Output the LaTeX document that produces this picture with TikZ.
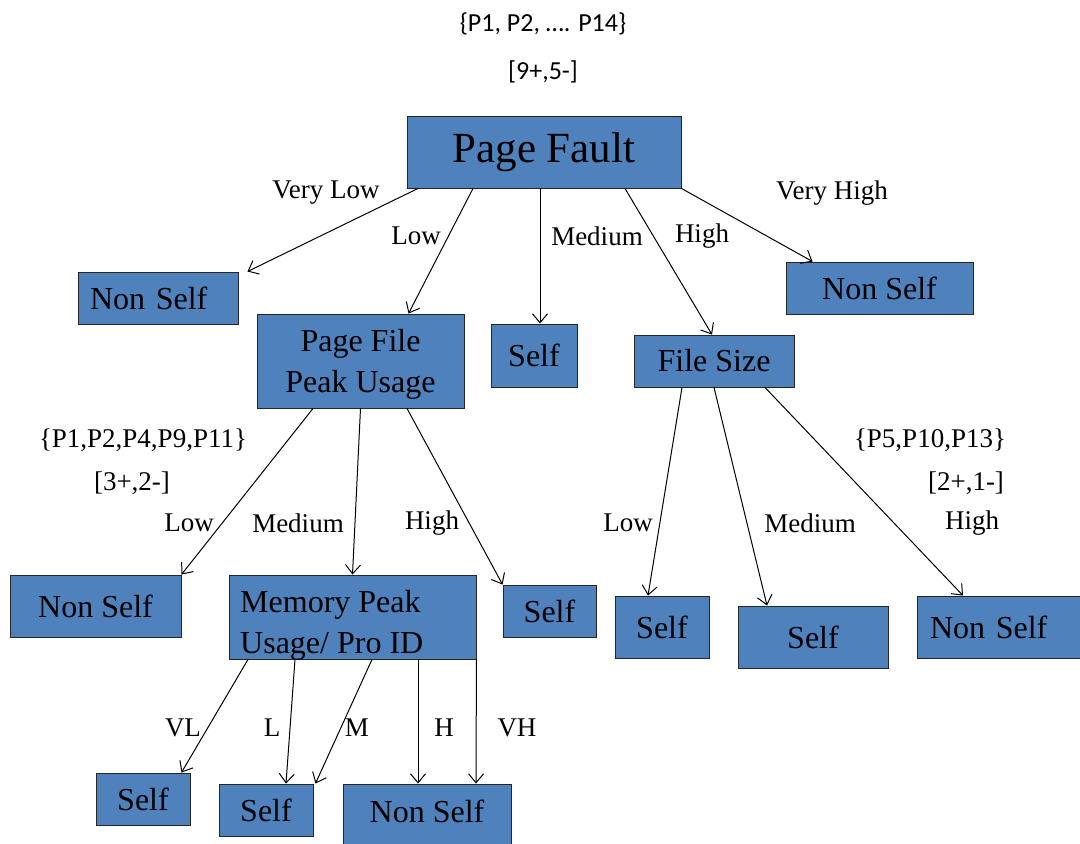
\documentclass[tikz,border=0pt]{standalone}
\usepackage{fontspec}
\setmainfont{Liberation Serif}
\newfontfamily\calibri{Carlito}
\usetikzlibrary{arrows.meta}
\definecolor{boxblue}{HTML}{4F81BD}

\tikzset{
  box/.style={draw=black!85, line width=0.9pt, fill=boxblue, inner sep=0pt,
    font=\fontsize{32}{41}\selectfont},
  lbl/.style={font=\fontsize{27}{32}\selectfont, inner sep=0pt},
  arr/.style={-{Straight Barb[length=9pt,width=15pt]}, line width=1pt}
}

\begin{document}
\begin{tikzpicture}[x=1pt,y=-1pt]
\useasboundingbox (0,0) rectangle (1080,844);
\clip (0,0) rectangle (1080,844);

% root
\node [lbl,font=\calibri\fontsize{26}{30}\selectfont] (all) at (543,24) {\{P1, P2, …. P14\}};
\node [lbl,font=\calibri\fontsize{26}{30}\selectfont] (allc) at (543,72) {[9+,5-]};
\node [box, minimum width=274, minimum height=72, font=\fontsize{43}{48}\selectfont] (pf) at (544,152) {Page Fault};

% level 1
\node [box, minimum height=52, text width=136, inner xsep=12pt, align=left] (ns1) at (158,298) {Non Self};
\node [box, minimum width=207, minimum height=94, align=center, text depth=0pt] (pfu) at (360.5,361) {Page File\\Peak Usage};
\node [box, minimum width=86, minimum height=63] (s1) at (534,355.5) {Self};
\node [box, minimum width=160, minimum height=52] (fs) at (714,361) {File Size};
\node [box, minimum width=187, minimum height=52] (ns2) at (879.5,288) {Non Self};

% level 2
\node [box, minimum width=171, minimum height=62] (ns3) at (95.5,606) {Non Self};
\node [box, minimum width=247, minimum height=84] (mpu) at (352.5,617) {};
\node [anchor=west, align=left, inner sep=0pt, font=\fontsize{32}{41}\selectfont] (mput) at (240,625) {Memory Peak\\Usage/ Pro ID};
\node [box, minimum width=93, minimum height=52] (s2) at (549.5,611) {Self};
\node [box, minimum width=94, minimum height=62] (s3) at (662,627) {Self};
\node [box, minimum width=150, minimum height=62] (s4) at (813,637) {Self};
\node [box, minimum height=62, text width=137, inner xsep=13pt, align=left] (ns4) at (998.5,627) {Non Self};

% level 3
\node [box, minimum width=94, minimum height=52] (s5) at (143,799) {Self};
\node [box, minimum width=94, minimum height=52] (s6) at (266,810) {Self};
\node [box, minimum width=168, minimum height=76, text depth=22pt] (ns5) at (427,822) {Non Self};

% edges from Page Fault
\draw [arr] ([xshift=-126pt]pf.south) -- ([xshift=9pt]ns1.north east);
\draw [arr] ([xshift=-71pt]pf.south) -- ([xshift=48pt]pfu.north);
\draw [arr] ([xshift=-4pt]pf.south) -- ([xshift=6pt]s1.north);
\draw [arr] ([xshift=81pt]pf.south) -- ([xshift=-2pt]fs.north);
\draw [arr] (pf.south east) -- ([xshift=27pt]ns2.north west);
\node [lbl] (l1) at (326,193) {Very Low};
\node [lbl] (l2) at (416,236) {Low};
\node [lbl] (l3) at (597,236) {Medium};
\node [lbl] (l4) at (702,236) {High};
\node [lbl] (l5) at (832,193) {Very High};

% edges from Page File Peak Usage
\draw [arr] ([xshift=-47.5pt]pfu.south) -- (ns3.north east);
\draw [arr] (pfu.south) -- (mpu.north);
\draw [arr] ([xshift=46.5pt]pfu.south) -- (s2.north west);
\node [lbl] (pset) at (143,440) {\{P1,P2,P4,P9,P11\}};
\node [lbl] (pcnt) at (132,483) {[3+,2-]};
\node [lbl] (l6) at (189,523) {Low};
\node [lbl] (l7) at (298,523) {Medium};
\node [lbl] (l8) at (432,523) {High};

% edges from File Size
\draw [arr] ([xshift=-32pt]fs.south) -- ([xshift=-14pt]s3.north);
\draw [arr] (fs.south) -- ([xshift=-46pt]s4.north);
\draw [arr] ([xshift=51pt]fs.south) -- ([xshift=-35.5pt]ns4.north);
\node [lbl] (fset) at (930,440) {\{P5,P10,P13\}};
\node [lbl] (fcnt) at (966,483) {[2+,1-]};
\node [lbl] (l9) at (628,523) {Low};
\node [lbl] (l10) at (810,523) {Medium};
\node [lbl] (l11) at (972,523) {High};

% edges from Memory Peak Usage
\draw [arr] ([xshift=-104.5pt]mpu.south) -- ([xshift=-9pt]s5.north east);
\draw [arr] ([xshift=-57.5pt]mpu.south) -- ([xshift=20pt]s6.north);
\draw [arr] ([xshift=19.5pt]mpu.south) -- ([xshift=2pt]s6.north east);
\draw [arr] ([xshift=65.5pt]mpu.south) -- ([xshift=-9pt]ns5.north);
\draw [arr] (mpu.south east) -- ([xshift=49pt]ns5.north);
\node [lbl] (m1) at (183,728) {VL};
\node [lbl] (m2) at (272,728) {L};
\node [lbl] (m3) at (357,728) {M};
\node [lbl] (m4) at (444,728) {H};
\node [lbl] (m5) at (517,728) {VH};
\end{tikzpicture}
\end{document}
